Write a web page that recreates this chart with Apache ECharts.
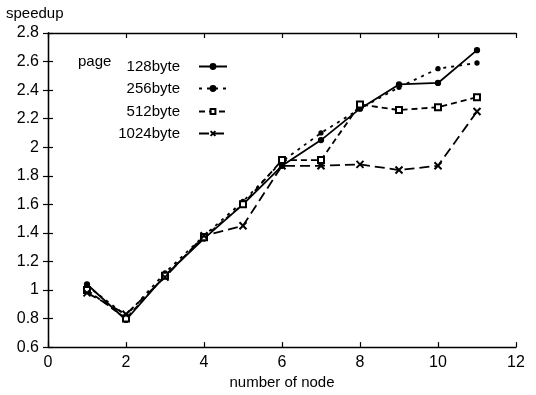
<!DOCTYPE html>
<html>
<head>
<meta charset="utf-8">
<script src="https://cdn.jsdelivr.net/npm/echarts@6/dist/echarts.min.js"></script>
<style>html,body{margin:0;padding:0;background:#fff}#c{width:536px;height:395px}</style>
</head>
<body>
<div id="c"></div>
<script>
var nodes = [1, 2, 3, 4, 5, 6, 7, 8, 9, 10, 11];
var s128 = [1.04, 0.79, 1.10, 1.36, 1.60, 1.87, 2.05, 2.27, 2.44, 2.45, 2.68];
var s256 = [1.03, 0.82, 1.12, 1.38, 1.62, 1.90, 2.10, 2.27, 2.42, 2.55, 2.59];
var s512 = [1.00, 0.80, 1.10, 1.37, 1.60, 1.91, 1.91, 2.30, 2.26, 2.28, 2.35];
var s1024 = [0.98, 0.83, 1.09, 1.38, 1.45, 1.87, 1.87, 1.88, 1.84, 1.87, 2.25];
var xTicks = [0, 2, 4, 6, 8, 10, 12];
var yTicks = [0.6, 0.8, 1, 1.2, 1.4, 1.6, 1.8, 2, 2.2, 2.4, 2.6, 2.8];
var names = ['128byte', '256byte', '512byte', '1024byte'];

var FONT = 'Liberation Sans';
function pairs(arr) { return nodes.map(function (n, i) { return [n, arr[i]]; }); }

var seriesDefs = [
  { data: s128, symbol: 'circle', size: 5, type: 'solid', width: 1.8 },
  { data: s256, symbol: 'circle', size: 4, type: [3, 5], width: 1.8 },
  { data: s512, symbol: 'emptyRect', size: 6, type: [6, 4], width: 1.8 },
  { data: s1024, symbol: 'path://M0,0L10,10M10,0L0,10', size: 7, type: [10, 5], width: 1.8 }
];

var series = seriesDefs.map(function (d, i) {
  return {
    name: names[i],
    type: 'line',
    data: pairs(d.data),
    symbol: d.symbol,
    symbolSize: d.size,
    showSymbol: true,
    itemStyle: { color: '#000', borderColor: '#000', borderWidth: i === 3 ? 2 : 1.3 },
    lineStyle: { color: '#000', width: d.width, type: d.type },
    animation: false,
    z: 3
  };
});

var legendRows = [65, 87, 110, 132];
var legends = names.map(function (n, i) {
  return {
    data: [n],
    orient: 'vertical',
    align: 'right',
    right: 536 - 233,
    top: legendRows[i] - 11,
    itemWidth: 28,
    itemHeight: 6,
    textStyle: { fontFamily: FONT, fontSize: 15, color: '#000', padding: [0, 14, 0, 0] },
    selectedMode: false
  };
});

var axisCommon = {
  min: 0, max: 12, interval: 2,
  axisLine: { lineStyle: { color: '#000', width: 1.3 } },
  splitLine: { show: false },
  axisTick: { inside: true, length: 5, lineStyle: { color: '#000', width: 1.2 } }
};

var option = {
  backgroundColor: '#fff',
  animation: false,
  grid: { left: 48, right: 20, top: 33, bottom: 42 },
  legend: legends,
  xAxis: [
    Object.assign({}, axisCommon, {
      type: 'value', position: 'bottom',
      axisLabel: { fontFamily: FONT, fontSize: 16, color: '#000', margin: 7,
        formatter: function (v) { return xTicks.indexOf(v) >= 0 ? String(v) : ''; } },
      name: 'number of node', nameLocation: 'middle', nameGap: 27,
      nameTextStyle: { fontFamily: FONT, fontSize: 15, color: '#000' }
    }),
    Object.assign({}, axisCommon, {
      type: 'value', position: 'top', axisLabel: { show: false }
    })
  ],
  yAxis: [
    {
      type: 'value', min: 0.6, max: 2.8, interval: 0.2, position: 'left',
      axisLine: { show: true, lineStyle: { color: '#000', width: 1.3 } },
      splitLine: { show: false },
      axisTick: { show: true, inside: true, length: 5, lineStyle: { color: '#000', width: 1.2 } },
      axisLabel: { fontFamily: FONT, fontSize: 16, color: '#000', margin: 9,
        formatter: function (v) {
          var r = Math.round(v * 10) / 10;
          return yTicks.indexOf(r) >= 0 ? String(r) : '';
        } }
    },
    {
      type: 'value', min: 0.6, max: 2.8, interval: 0.2, position: 'right',
      axisLine: { show: true, lineStyle: { color: '#000', width: 1.3 } },
      splitLine: { show: false },
      axisTick: { show: true, inside: true, length: 5, lineStyle: { color: '#000', width: 1.2 } },
      axisLabel: { show: false }
    }
  ],
  graphic: [
    { type: 'text', left: 6, top: 6, style: { text: 'speedup', font: '15px "Liberation Sans"', fill: '#000' } },
    { type: 'text', left: 78, top: legendRows[0] - 11, style: { text: 'page', font: '15px "Liberation Sans"', fill: '#000' } }
  ],
  series: series
};

var chart = echarts.init(document.getElementById('c'), null, { renderer: 'canvas' });
chart.setOption(option);
</script>
</body>
</html>
